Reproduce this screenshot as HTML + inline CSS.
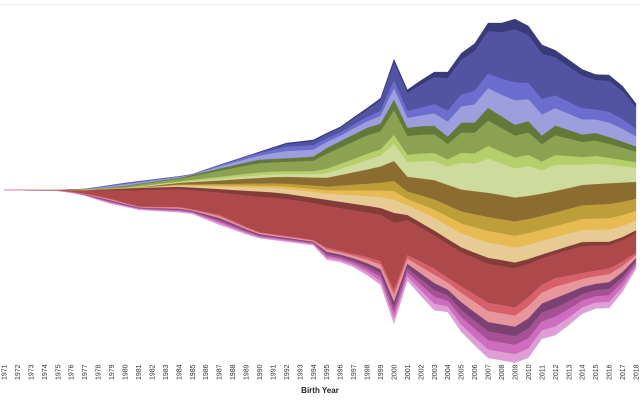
<!DOCTYPE html>
<html><head><meta charset="utf-8"><style>
html,body{margin:0;padding:0;background:#fff;}
svg{display:block;font-family:"Liberation Sans",sans-serif;}
</style></head><body>
<svg id="s" width="640" height="400" viewBox="0 0 640 400">
<line x1="0" y1="4.5" x2="640" y2="4.5" stroke="#eee" stroke-width="1"/>
<g id="layers"></g>
<g id="ax" font-size="7" fill="#333"></g>
<text x="320" y="393" font-size="8" font-weight="bold" text-anchor="middle" fill="#222">Birth Year</text>
</svg>
<script>
function interp(pts,x){
  if(x<=pts[0][0])return pts[0][1];
  for(var i=1;i<pts.length;i++){if(x<=pts[i][0]){var a=pts[i-1],b=pts[i];return a[1]+(b[1]-a[1])*(x-a[0])/(b[0]-a[0]);}}
  return pts[pts.length-1][1];
}
function cl(v){return v<0?0:v>1?1:v;}
var B0=[[4,190],[58,190],[85,189],[125,183],[190,175],[219,165],[259,152],[286,143],[313,140],[327,133],[340,127],[367,108],[380,100],[393,57],[407,90],[433,72],[448,72],[462,52],[477,42],[488,23],[502,23],[515,19],[527,24],[542,45],[555,50],[583,70],[597,75],[610,75],[627,90],[637,105]];
var B4=[[4,190],[58,190],[85,189.5],[125,186],[180,178],[257,160],[313,157],[327,148],[367,128],[380,125],[393,98],[407,128],[433,125],[448,137],[462,122],[477,123],[488,108],[515,125],[527,120],[543,137],[553,125],[583,135],[597,133],[637,147]];
var B8=[[4,190],[58,190],[125,189],[180,183],[280,177],[327,178],[380,167],[393,160],[407,177],[433,180],[462,190],[488,193],[517,198],[547,193],[583,185],[637,182]];
var B12=[[4,190],[58,190.3],[80,190.7],[140,188],[180,187],[280,193],[327,200],[380,208],[393,213],[407,215],[433,230],[462,248],[488,258],[517,263],[547,253],[583,242],[613,242],[637,230]];
var B14=[[4,190],[58,190.6],[80,193],[107,198],[140,207],[180,207],[220,215],[257,232],[313,240],[327,248],[380,260],[393,293],[407,255],[433,268],[462,287],[488,303],[517,308],[547,280],[583,273],[613,268],[637,252]];
var B20=[[4,190],[58,190.8],[80,194],[107,203],[140,210],[190,213],[220,225],[257,238],[313,245],[327,260],[347,263],[380,283],[393,327],[407,280],[433,310],[448,312],[462,333],[488,358],[517,363],[530,357],[543,337],[557,335],[583,313],[597,308],[613,308],[637,267]];
var cols=["#393b79","#5254a3","#6b6ecf","#9c9ede","#637939","#8ca252","#b5cf6b","#cedb9c","#8c6d31","#bd9e39","#e7ba52","#e7cb94","#843c39","#ad494a","#d6616b","#e7969c","#7b4173","#a55194","#ce6dbd","#de9ed6"];
function fr(y){
  var t=(y-1971)/47;
  var s=cl((y-1990)/12), s2=cl((y-1995)/10);
  var bl=[0.1,0.1+0.4*s,0.3-0.13*s,0.5-0.27*s];
  var g=[0.2-0.05*s2,0.5-0.2*s2,0.15,0.15+0.25*s2];
  var br=[0.45-0.1*t,0.1+0.15*t,0.1+0.1*t,0.35-0.15*t];
  return {bl:bl,g:g,br:br,r:[0.13,0.87],bo:[0.15,0.2,0.17,0.16,0.17,0.15]};
}
var xs=[],bounds=[];
for(var y=1971;y<=2018;y++){
  var x=4+(y-1971)*(632/47);xs.push(x);
  var f=fr(y);
  var k=[interp(B0,x),interp(B4,x),interp(B8,x),interp(B12,x),interp(B14,x),interp(B20,x)];
  var groups=[f.bl,f.g,f.br,f.r,f.bo];
  var b=[k[0]];
  for(var gi=0;gi<5;gi++){var a=k[gi],c=k[gi+1],acc=a;for(var j=0;j<groups[gi].length;j++){acc+=(c-a)*groups[gi][j];b.push(acc);}}
  b[b.length-1]=k[5];
  bounds.push(b);
}
var html="";
for(var L=0;L<20;L++){
  var p="M";
  for(var i=0;i<xs.length;i++)p+=xs[i].toFixed(1)+","+bounds[i][L].toFixed(1)+" L";
  for(var i=xs.length-1;i>=0;i--)p+=xs[i].toFixed(1)+","+bounds[i][L+1].toFixed(1)+(i?" L":"");
  html+='<path d="'+p+'Z" fill="'+cols[L]+'" stroke="'+cols[L]+'" stroke-width="0.3"/>';
}
document.getElementById("layers").innerHTML=html;
var ax="";
for(var i=0;i<xs.length;i++){
  ax+='<text transform="translate('+(xs[i]+2.5).toFixed(1)+',380) rotate(-90)">'+(1971+i)+'</text>';
}
document.getElementById("ax").innerHTML=ax;
</script>
</body></html>
